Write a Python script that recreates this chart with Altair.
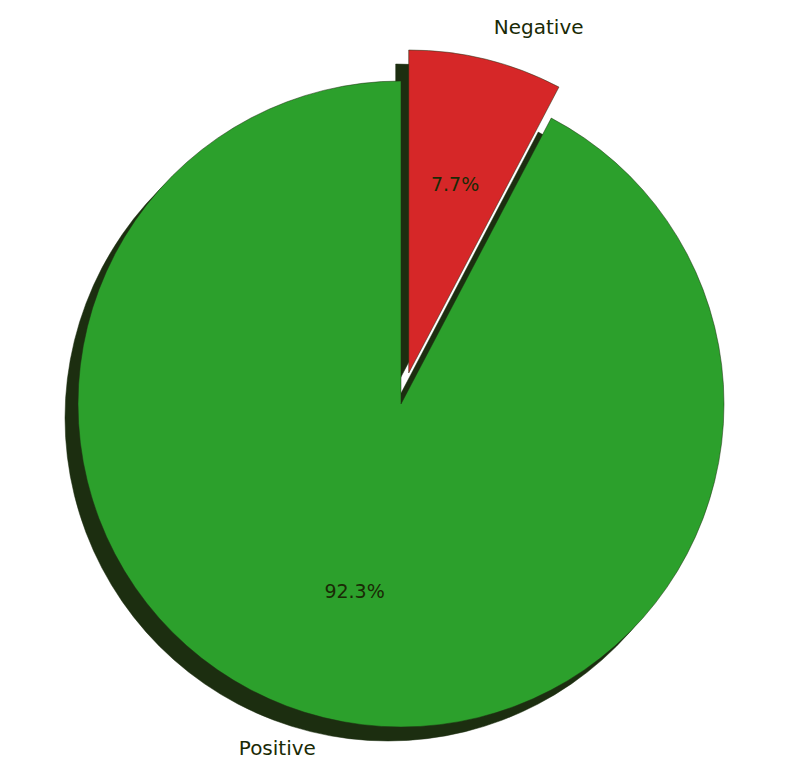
import altair as alt
import pandas as pd

labels = ["Negative", "Positive"]
shares = [7.7, 92.3]
colors = ["#d62728", "#2ca02c"]

df = pd.DataFrame({"label": labels, "share": shares, "color": colors})

cx, cy, r = 393, 396, 323
ex, ey = 7.7, -31  # exploded offset for Negative
sx, sy = -13, 14   # shadow offset

base = alt.Chart(df).transform_joinaggregate(
    total="sum(share)"
).transform_window(
    cum="sum(share)", sort=[alt.SortField("label")]
).transform_calculate(
    t1="datum.cum / datum.total * 2 * PI",
    t0="(datum.cum - datum.share) / datum.total * 2 * PI",
    tm="(datum.cum - datum.share / 2) / datum.total * 2 * PI",
    pct="format(datum.share, '.1f') + '%'",
)

neg = alt.FieldEqualPredicate(field="label", equal="Negative")
pos = alt.FieldEqualPredicate(field="label", equal="Positive")

def wedge(pred, x, y, fill):
    enc = dict(
        theta=alt.Theta("t0:Q", scale=None),
        theta2="t1:Q",
    )
    if fill is None:
        enc["color"] = alt.Color("color:N", scale=None)
    return base.transform_filter(pred).mark_arc(
        x=x, y=y, outerRadius=r,
        **({"fill": fill} if fill else {}),
        stroke="#1d2f10", strokeWidth=0.5,
    ).encode(**enc)

shadow_pos = wedge(pos, cx + sx, cy + sy, "#1c2e10")
shadow_neg = wedge(neg, cx + ex + sx, cy + ey + sy, "#1c2e10")
pie_pos = wedge(pos, cx, cy, None)
pie_neg = wedge(neg, cx + ex, cy + ey, None)

def text(pred, x, y, rad, field, align, size):
    return base.transform_filter(pred).mark_text(
        x=x, y=y, radius=rad, align=align, baseline="middle",
        font="DejaVu Sans", fontSize=size, color="#1a2a05",
    ).encode(theta=alt.Theta("tm:Q", scale=None), text=f"{field}:N")

layers = [
    shadow_pos, shadow_neg, pie_pos, pie_neg,
    text(neg, cx + ex, cy + ey, 1.1 * r, "label", "left", 20),
    text(pos, cx, cy, 1.1 * r, "label", "right", 20),
    text(neg, cx + ex, cy + ey, 0.6 * r, "pct", "center", 19),
    text(pos, cx, cy, 0.6 * r, "pct", "center", 19),
]

chart = alt.layer(*layers).properties(
    width=784, height=765, autosize="none", padding=0
).configure_view(stroke=None)

chart.save("out.html", embed_options={"renderer": "svg", "actions": False})
